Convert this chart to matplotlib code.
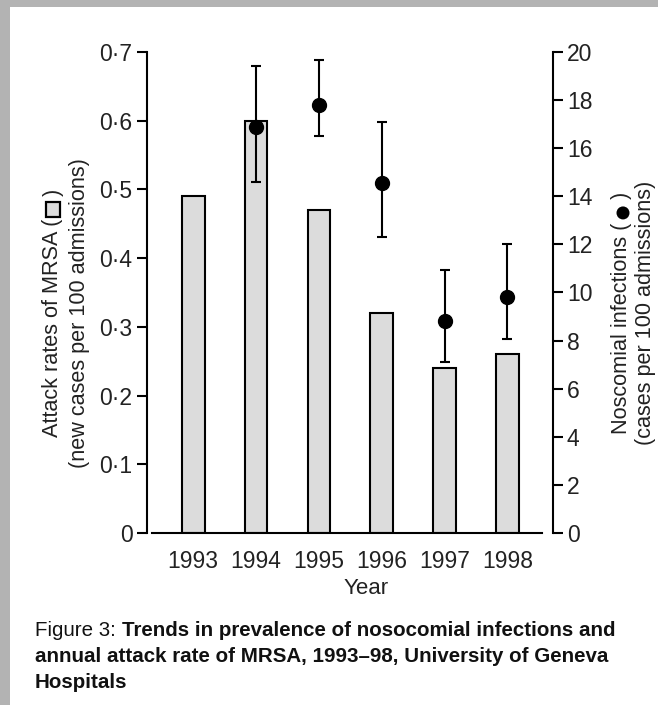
import numpy as np
import matplotlib
matplotlib.use("Agg")
import matplotlib.pyplot as plt
from matplotlib.patches import Rectangle, Circle

plt.rcParams['font.family'] = ['Liberation Sans', 'DejaVu Sans']

# ---- data ----
years = ["1993", "1994", "1995", "1996", "1997", "1998"]
mrsa_rate = [0.49, 0.60, 0.47, 0.32, 0.24, 0.26]
noso_rate = [np.nan, 16.9, 17.8, 14.55, 8.8, 9.8]
noso_low = [np.nan, 14.6, 16.5, 12.3, 7.1, 8.05]
noso_high = [np.nan, 19.4, 19.65, 17.1, 10.95, 12.0]
left_ticks = [0, 0.1, 0.2, 0.3, 0.4, 0.5, 0.6, 0.7]
left_ticklabels = ["0", "0·1", "0·2", "0·3", "0·4", "0·5", "0·6", "0·7"]
right_ticks = [0, 2, 4, 6, 8, 10, 12, 14, 16, 18, 20]

W, H = 658, 705
fig = plt.figure(figsize=(W / 100, H / 100), dpi=100)
fig.patch.set_facecolor('white')
TXT = '#222222'


def fx(px):
    return px / W


def fy(py):
    return 1 - py / H


# gray frame strips
border = '#b3b3b3'
fig.patches.append(Rectangle((0, fy(7)), 1, 7 / H, transform=fig.transFigure,
                             facecolor=border, edgecolor='none', zorder=0))
fig.patches.append(Rectangle((0, 0), 10 / W, 1, transform=fig.transFigure,
                             facecolor=border, edgecolor='none', zorder=0))

ax = fig.add_axes([fx(146.7), fy(533), fx(552.7) - fx(146.7), fy(52) - fy(533)])
ax.set_facecolor('none')
x = np.arange(len(years))
ax.bar(x, mrsa_rate, width=0.36, color='#dcdcdc', edgecolor='black',
       linewidth=1.5, zorder=2)
ax.set_xlim(-0.74, 5.72)
ax.set_ylim(0, 0.7)
ax.set_yticks(left_ticks)
ax.set_yticklabels(left_ticklabels)
ax.set_xticks(x)
ax.set_xticklabels(years)
for s in ['top', 'right']:
    ax.spines[s].set_visible(False)
ax.spines['left'].set_linewidth(1.5)
ax.spines['bottom'].set_linewidth(1.5)
ax.spines['bottom'].set_bounds(-0.66, 5.55)
ax.tick_params(axis='y', direction='out', length=7.2, width=1.5,
               labelsize=16.5, pad=3, labelcolor=TXT)
ax.tick_params(axis='x', length=0, pad=12, labelsize=16.5, labelcolor=TXT)

ax2 = ax.twinx()
ax2.set_ylim(0, 20)
ax2.set_yticks(right_ticks)
noso = np.array(noso_rate)
yerr = [noso - np.array(noso_low), np.array(noso_high) - noso]
ax2.errorbar(x, noso, yerr=yerr, fmt='o', color='black', ms=10,
             elinewidth=1.5, capsize=3.3, capthick=1.5, zorder=3)
for s in ['top', 'left', 'bottom']:
    ax2.spines[s].set_visible(False)
ax2.spines['right'].set_linewidth(1.5)
ax2.tick_params(axis='y', direction='out', length=7.2, width=1.5,
                labelsize=16.5, pad=3, labelcolor=TXT)

# x label
fig.text(fx(366), fy(588), "Year", ha='center', va='center', fontsize=16,
         color=TXT)

lab_fs = 15.6
renderer = fig.canvas.get_renderer()


def label_with_symbol(cx, cy, before, after, symbol):
    t1 = fig.text(fx(cx), 0, before, rotation=90, ha='center', va='bottom',
                  fontsize=lab_fs, color=TXT)
    t2 = fig.text(fx(cx), 0, after, rotation=90, ha='center', va='bottom',
                  fontsize=lab_fs, color=TXT)
    h1 = t1.get_window_extent(renderer).height
    h2 = t2.get_window_extent(renderer).height
    sq = 15.0
    gap = 2.0
    total = h1 + gap + sq + h2
    ybot = (H - cy) - total / 2
    t1.set_y(ybot / H)
    sy = ybot + h1 + gap + sq / 2
    if symbol == 'square':
        fig.patches.append(Rectangle((cx - sq / 2 + 0.5, sy - sq / 2), sq - 1, sq,
                                     transform=None, facecolor='#dcdcdc',
                                     edgecolor='black', linewidth=1.6, zorder=5))
    else:
        fig.patches.append(Circle((cx + 1, sy), 6.5, transform=None,
                                  facecolor='black', edgecolor='none', zorder=5))
    t2.set_y((ybot + h1 + gap + sq) / H)


label_with_symbol(53, 313, "Attack rates of MRSA (", " )", 'square')
fig.text(fx(80), fy(313), "(new cases per 100 admissions)", rotation=90,
         ha='center', va='center', fontsize=lab_fs, color=TXT)

label_with_symbol(622, 313, "Noscomial infections (", " )", 'circle')
fig.text(fx(645), fy(313), "(cases per 100 admissions)", rotation=90,
         ha='center', va='center', fontsize=lab_fs, color=TXT)

# caption
cap_fs = 14.8
c0 = fig.text(fx(35), fy(635.5), "Figure 3: ", ha='left', va='baseline',
              fontsize=cap_fs, color='#111111')
w0 = c0.get_window_extent(renderer).width
fig.text(fx(35) + w0 / W, fy(635.5),
         "Trends in prevalence of nosocomial infections and",
         ha='left', va='baseline', fontsize=cap_fs, fontweight='bold', color='#111111')
fig.text(fx(35), fy(662), "annual attack rate of MRSA, 1993–98, University of Geneva",
         ha='left', va='baseline', fontsize=cap_fs, fontweight='bold', color='#111111')
fig.text(fx(35), fy(688.5), "Hospitals",
         ha='left', va='baseline', fontsize=cap_fs, fontweight='bold', color='#111111')

fig.savefig("out.png", dpi=100)
